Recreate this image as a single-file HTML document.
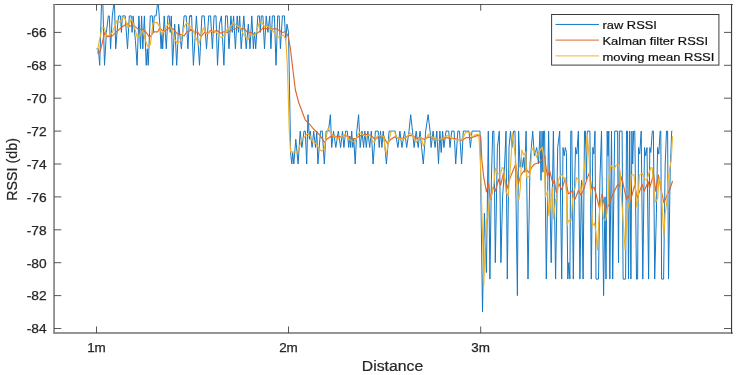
<!DOCTYPE html>
<html><head><meta charset="utf-8"><title>RSSI vs Distance</title>
<style>html,body{margin:0;padding:0;background:#fff}body{width:738px;height:375px;overflow:hidden}</style></head>
<body>
<svg width="738" height="375" viewBox="0 0 738 375" style="display:block;font-family:'Liberation Sans',Arial,sans-serif">
<rect x="0" y="0" width="738" height="375" fill="#fff"/>
<defs><clipPath id="c"><rect x="54" y="4.5" width="678" height="328.5"/></clipPath><filter id="b" x="0" y="0" width="738" height="375" filterUnits="userSpaceOnUse"><feGaussianBlur stdDeviation="0.5 0.12"/></filter><filter id="b2" x="0" y="0" width="738" height="375" filterUnits="userSpaceOnUse"><feGaussianBlur stdDeviation="0.3 0.1"/></filter></defs>
<g clip-path="url(#c)"><g filter="url(#b)">
<polyline fill="none" stroke="#1477c4" stroke-width="1" stroke-linejoin="round" points="96.5,48.8 98.4,48.8 99.7,65.3 102.2,-20.2 104.5,65.3 106.4,32.4 108.3,15.9 109.3,15.9 110.6,48.8 112.3,15.9 114.4,-0.5 115.7,48.8 117.7,24.2 118.7,15.9 120.5,15.9 121.4,32.4 122.4,15.9 125.2,15.9 127.5,48.8 129.3,15.9 131.2,15.9 132.1,32.4 133.1,15.9 135.4,40.6 137.1,65.3 138.9,15.9 140.5,48.8 141.6,15.9 142.8,48.8 144.4,15.9 146.2,65.3 147.3,48.8 148.2,65.3 150.3,15.9 152.3,15.9 153.2,32.4 154.3,15.9 156.1,15.9 158.0,-0.5 159.8,24.2 161.1,48.8 161.9,32.4 162.7,48.8 164.2,15.9 166.3,48.8 167.9,15.9 169.2,15.9 170.2,32.4 171.3,15.9 172.6,65.3 174.7,24.2 176.7,65.3 178.7,24.2 181.4,48.8 184.1,15.9 186.2,15.9 187.9,48.8 189.6,15.9 191.7,15.9 190.0,15.9 191.6,15.9 193.4,65.3 196.4,15.9 199.5,65.3 201.9,15.9 204.2,15.9 206.5,48.8 208.7,15.9 210.6,15.9 212.4,48.8 214.1,15.9 216.0,15.9 217.5,65.3 219.5,24.2 221.4,15.9 223.9,65.3 225.6,15.9 227.3,15.9 229.0,48.8 230.9,15.9 232.3,32.4 233.6,15.9 235.4,48.8 237.2,15.9 238.5,32.4 239.7,15.9 241.2,48.8 243.8,15.9 246.2,48.8 248.3,24.2 250.0,48.8 251.8,15.9 253.4,48.8 254.5,32.4 255.7,48.8 257.8,15.9 259.4,15.9 260.3,32.4 261.3,15.9 262.9,15.9 264.5,48.8 266.2,15.9 267.9,32.4 269.7,15.9 270.9,48.8 272.4,15.9 274.4,15.9 276.0,65.3 277.7,15.9 279.2,15.9 280.4,48.8 282.4,15.9 284.4,15.9 285.7,40.6 287.0,24.2 288.5,32.4 290.7,154.1 291.8,164.0 292.7,152.5 293.8,164.0 295.8,139.3 298.1,164.0 300.2,131.1 301.9,147.5 304.0,131.1 305.3,131.1 306.7,164.0 308.0,114.7 309.4,139.3 310.2,131.1 312.1,147.5 313.7,131.1 315.5,147.5 316.8,131.1 317.9,164.0 320.5,131.1 322.3,131.1 324.3,164.0 326.1,131.1 328.4,131.1 330.4,114.7 331.7,147.5 333.5,131.1 335.8,147.5 338.3,131.1 340.6,147.5 342.5,131.1 343.9,147.5 345.7,131.1 347.3,131.1 348.7,147.5 349.8,136.0 350.7,147.5 351.7,131.1 352.8,147.5 353.8,139.3 355.2,164.0 356.8,131.1 358.6,114.7 360.2,147.5 362.0,131.1 363.6,147.5 364.9,131.1 366.3,147.5 367.9,131.1 369.7,147.5 371.3,131.1 373.1,164.0 375.4,131.1 378.2,131.1 379.2,147.5 380.5,131.1 381.9,147.5 383.2,131.1 385.0,147.5 386.4,164.0 389.1,131.1 395.2,131.1 397.9,147.5 399.9,131.1 401.9,147.5 404.6,131.1 406.7,147.5 409.0,131.1 410.7,114.7 412.5,131.1 414.1,147.5 416.2,131.1 418.2,147.5 420.0,131.1 421.6,147.5 423.3,164.0 425.7,131.1 428.1,114.7 430.1,131.1 431.1,147.5 433.1,131.1 435.1,147.5 436.8,131.1 438.5,164.0 439.9,131.1 441.2,152.5 442.6,131.1 443.9,147.5 446.0,131.1 448.7,131.1 450.0,147.5 451.7,131.1 454.1,131.1 455.7,164.0 457.8,131.1 459.5,131.1 461.6,164.0 463.3,131.1 469.0,131.1 470.4,147.5 472.0,131.1 478.5,131.1 480.0,131.1 482.5,312.0 484.4,213.3 486.4,272.6 488.3,131.1 489.9,279.1 491.4,180.4 492.7,131.1 493.9,131.1 495.3,262.7 497.4,147.5 499.3,131.1 500.9,262.7 502.6,196.9 504.3,172.2 506.0,131.1 507.3,279.1 509.0,147.5 510.5,131.1 512.0,147.5 513.5,131.1 515.0,131.1 517.4,295.6 518.6,131.1 520.1,167.3 521.5,157.4 522.6,167.3 523.8,157.4 524.8,172.2 526.1,131.1 528.0,279.1 530.0,164.0 532.7,131.1 534.4,155.8 536.7,147.5 538.5,164.0 540.0,131.1 541.0,180.4 542.1,131.1 542.9,172.2 543.6,131.1 544.6,131.1 546.3,279.1 548.6,131.1 551.2,262.7 553.4,131.1 555.6,279.1 557.7,147.5 559.7,131.1 561.7,279.1 563.0,147.5 564.2,155.8 565.3,147.5 566.4,152.5 567.8,279.1 568.8,262.7 569.9,279.1 570.8,131.1 571.8,131.1 573.3,279.1 574.4,196.9 575.5,147.5 576.8,154.1 578.4,131.1 579.9,279.1 581.5,180.4 583.1,279.1 584.5,131.1 585.4,131.1 586.4,180.4 587.3,131.1 589.9,131.1 591.3,279.1 592.8,147.5 593.8,154.1 595.0,131.1 596.0,279.1 598.5,279.1 599.9,180.4 601.5,131.1 603.6,295.6 605.0,196.9 606.0,279.1 607.2,131.1 608.0,155.8 608.8,131.1 609.8,279.1 611.5,131.1 612.7,279.1 614.7,131.1 617.6,131.1 618.5,262.7 619.4,131.1 622.1,131.1 623.1,279.1 625.6,279.1 626.5,131.1 627.5,131.1 628.5,279.1 629.7,131.1 630.9,279.1 631.9,131.1 632.7,164.0 633.6,131.1 634.8,131.1 636.5,279.1 637.6,279.1 638.5,147.5 639.7,154.1 641.2,131.1 642.8,279.1 644.5,147.5 645.7,155.8 647.0,147.5 648.6,279.1 649.8,147.5 650.8,152.5 652.3,131.1 653.4,131.1 654.7,279.1 656.4,213.3 657.6,147.5 658.8,154.1 660.1,131.1 660.8,131.1 661.6,279.1 663.6,279.1 665.2,164.0 666.5,131.1 667.6,131.1 668.5,279.1 670.2,172.2 671.7,131.1 672.3,131.1"/>
</g><g filter="url(#b2)">
<polyline fill="none" stroke="#e0652a" stroke-width="1.15" stroke-linejoin="round" points="97.6,53.0 99.7,52.4 100.8,48.8 104.9,31.8 106.9,36.6 112.3,35.9 116.4,31.8 121.8,27.1 127.2,23.7 129.9,26.4 132.7,24.4 138.1,29.1 143.5,29.8 146.2,32.5 149.6,37.3 153.7,31.8 157.7,31.8 159.8,27.8 163.8,31.8 169.2,27.8 173.3,29.1 177.4,33.9 181.4,34.6 184.1,35.9 186.9,31.8 190.9,30.5 190.0,29.1 194.1,31.8 198.1,32.5 200.8,36.6 204.9,31.8 207.6,33.9 210.3,30.5 213.7,32.5 217.1,30.5 220.5,33.2 223.9,31.8 227.3,32.5 232.0,29.8 236.1,28.5 238.8,27.1 242.2,29.1 244.2,28.5 246.9,31.8 251.0,32.5 255.0,34.6 259.1,31.8 263.2,27.8 265.9,29.1 268.6,27.8 272.7,29.1 275.4,28.5 279.4,30.5 282.1,32.5 284.9,31.8 286.9,33.9 288.1,36.0 290.3,47.7 293.1,71.2 295.4,90.0 298.8,102.8 302.0,111.3 305.2,119.9 308.4,123.0 309.4,124.0 312.8,128.1 316.2,131.5 320.2,135.6 324.3,142.3 327.0,138.9 331.1,136.2 336.5,136.2 340.6,136.9 344.6,134.9 348.7,136.9 352.8,138.3 355.5,138.9 358.8,136.2 362.9,134.9 367.7,134.2 371.7,136.2 374.4,138.9 378.5,137.6 383.9,136.2 385.0,139.6 387.7,143.7 390.4,139.6 394.5,136.9 398.6,138.3 404.0,138.3 409.4,135.6 412.1,135.6 416.2,138.3 420.2,137.6 424.3,139.6 428.4,136.9 432.4,138.3 437.8,139.6 441.9,139.6 446.0,137.6 450.0,138.3 454.1,138.3 458.2,139.6 462.2,140.3 466.3,137.6 471.7,137.6 477.1,135.6 480.5,135.6 481.0,140.0 481.8,160.0 483.8,177.6 486.5,191.8 488.5,183.7 490.6,199.3 493.3,187.1 495.3,191.2 498.7,179.0 500.7,185.0 503.5,172.9 506.8,189.1 510.2,177.6 515.7,164.0 518.4,183.7 520.4,176.3 522.4,172.9 525.8,168.8 529.2,172.9 531.9,166.8 534.6,164.0 538.7,162.7 542.0,160.0 544.8,155.9 545.5,164.0 547.5,176.3 549.5,170.2 552.9,183.7 554.3,180.3 556.3,192.5 559.0,183.7 561.7,189.8 565.1,179.0 568.5,193.9 571.9,191.2 575.0,199.3 578.4,190.5 581.1,195.2 583.8,189.1 586.5,180.3 589.2,172.9 591.9,189.1 594.0,187.1 596.0,193.9 599.4,208.0 602.1,193.9 605.5,211.0 608.9,204.7 611.6,197.3 615.0,189.8 617.7,184.4 619.7,186.4 621.7,176.9 623.8,187.1 626.5,199.3 628.5,195.2 630.6,200.7 634.6,185.1 637.3,197.9 642.1,184.4 644.1,191.2 648.2,181.7 649.5,188.5 653.6,174.2 655.6,191.2 658.3,174.9 661.0,189.1 663.8,202.7 667.1,195.2 669.9,189.1 672.6,181.0"/>
<polyline fill="none" stroke="#f0b42c" stroke-width="1.15" stroke-linejoin="round" points="97.4,53.7 98.5,45.0 102.2,27.1 104.2,27.8 106.9,35.9 109.6,35.2 112.3,32.5 117.1,20.3 119.8,22.4 123.2,16.9 125.2,19.0 127.9,27.8 131.3,19.0 134.0,25.7 137.4,37.9 139.4,35.9 142.8,30.5 145.5,40.7 148.2,47.4 150.3,44.7 153.0,23.0 157.0,22.4 159.8,27.1 161.8,34.6 165.2,29.1 168.6,23.0 171.3,29.1 174.7,39.3 177.4,43.4 180.8,40.7 184.1,27.1 186.9,22.4 189.6,25.7 190.0,26.4 192.7,29.1 195.4,36.6 198.8,44.7 201.5,33.9 203.6,27.8 206.3,33.9 210.3,31.8 215.1,30.5 219.1,35.9 221.8,37.9 224.6,33.9 227.3,29.1 230.7,26.4 233.4,22.4 236.7,25.7 240.1,27.1 243.5,34.6 248.3,39.3 250.3,34.6 253.7,35.9 256.4,31.8 259.1,23.0 261.8,22.4 264.5,26.4 267.9,26.4 271.3,29.1 274.7,33.2 278.1,37.3 280.1,35.9 283.5,35.2 285.5,38.6 286.3,47.0 287.2,62.7 288.2,92.5 289.2,130.0 290.6,151.9 292.5,151.8 296.5,152.5 298.6,149.1 301.9,139.6 304.6,136.9 307.4,133.5 310.1,135.6 312.8,142.3 315.5,143.0 318.9,148.4 321.6,151.1 324.3,149.1 325.7,139.6 328.1,128.1 330.4,132.8 333.8,136.2 337.8,138.9 341.9,136.2 345.3,134.2 348.7,138.9 352.8,141.6 354.8,142.3 357.5,135.6 359.5,132.2 362.9,134.9 366.3,136.2 369.7,134.9 372.4,141.0 374.4,142.3 377.1,136.2 379.9,134.9 383.9,136.9 385.0,149.1 386.4,153.8 388.4,142.3 391.1,131.5 394.5,131.5 396.5,136.9 399.9,138.9 404.0,138.9 407.4,136.2 410.1,132.8 412.8,136.2 416.2,142.3 418.2,139.6 420.9,136.9 423.6,146.4 425.7,139.6 428.4,134.2 431.1,136.2 435.1,138.9 439.2,139.6 443.3,138.3 446.7,135.6 450.0,136.9 454.1,139.6 458.8,139.6 462.9,138.9 465.6,132.2 469.7,132.2 471.7,136.9 475.1,134.9 478.5,134.2 479.0,137.6 480.4,160.0 481.5,200.0 483.0,250.0 483.8,285.6 485.0,250.0 486.5,219.0 487.9,217.6 489.2,200.0 491.3,196.6 494.0,183.0 495.3,168.1 497.4,173.6 500.7,173.6 502.1,167.5 503.5,168.1 504.8,180.3 506.2,192.5 508.2,195.9 509.6,177.6 510.9,160.0 512.5,133.0 514.5,150.0 515.7,160.0 516.3,180.3 517.7,195.9 519.0,199.3 520.4,187.1 521.7,150.0 523.8,155.2 525.8,151.8 526.5,177.0 529.2,176.3 530.5,170.8 531.9,147.8 534.6,151.2 536.7,157.3 538.7,152.5 542.1,147.1 543.4,155.2 544.8,177.6 545.5,196.6 547.5,191.2 548.8,215.6 550.5,205.0 552.2,187.1 553.6,219.0 555.6,199.3 557.0,200.7 558.3,180.3 559.7,176.9 561.7,174.2 563.8,179.0 565.1,177.6 566.5,193.9 567.1,225.7 568.5,220.3 571.2,220.3 572.6,200.0 574.0,190.0 575.0,188.5 576.4,177.6 579.0,180.3 581.1,192.5 583.1,180.3 585.2,160.0 587.2,134.0 588.6,150.0 589.2,160.0 589.9,180.3 591.3,200.7 592.6,225.7 594.6,223.0 596.0,233.9 597.4,250.0 598.7,223.7 600.0,205.0 601.5,198.0 603.5,219.0 605.5,220.3 606.8,213.6 608.2,200.0 608.9,177.6 610.9,165.4 614.3,168.8 616.3,164.7 619.0,164.7 620.4,173.6 621.1,193.9 622.4,210.0 623.1,220.3 625.1,250.0 627.2,213.6 628.5,205.0 629.9,199.3 631.2,174.9 633.9,174.9 635.3,187.1 636.7,206.8 638.0,200.7 639.4,174.9 642.1,173.6 644.8,179.0 646.8,180.3 648.8,173.6 650.9,167.5 652.2,168.1 653.6,187.1 655.6,202.0 657.7,197.9 659.0,177.6 661.0,184.4 662.1,205.0 663.8,236.6 665.1,213.6 666.5,205.0 668.5,176.3 669.9,168.1 671.2,160.0 672.5,136.3"/>
</g></g>
<path d="M53.25 4.5H732.8" stroke="#585858" stroke-width="1" fill="none"/>
<path d="M53.25 333H732.8" stroke="#727272" stroke-width="1.5" fill="none"/>
<path d="M54.05 4V333.5" stroke="#868686" stroke-width="1.7" fill="none"/>
<path d="M731.55 4V333.7" stroke="#3e3e3e" stroke-width="1.15" fill="none"/>
<path d="M54.05 32.40h7.2M731 32.40h-7M54.05 65.30h7.2M731 65.30h-7M54.05 98.20h7.2M731 98.20h-7M54.05 131.10h7.2M731 131.10h-7M54.05 164.00h7.2M731 164.00h-7M54.05 196.90h7.2M731 196.90h-7M54.05 229.80h7.2M731 229.80h-7M54.05 262.70h7.2M731 262.70h-7M54.05 295.60h7.2M731 295.60h-7M54.05 328.50h7.2M731 328.50h-7M96.5 333.0v-6.5M96.5 4.2v6.5M288.5 333.0v-6.5M288.5 4.2v6.5M480.7 333.0v-6.5M480.7 4.2v6.5" stroke="#3a3a3a" stroke-width="0.85" fill="none"/>
<text x="46.65" y="37.2" font-size="12.4" text-anchor="end" fill="#262626" stroke="#262626" stroke-width="0.25" textLength="19.9" lengthAdjust="spacingAndGlyphs">-66</text>
<text x="46.65" y="70.1" font-size="12.4" text-anchor="end" fill="#262626" stroke="#262626" stroke-width="0.25" textLength="19.9" lengthAdjust="spacingAndGlyphs">-68</text>
<text x="46.65" y="103.0" font-size="12.4" text-anchor="end" fill="#262626" stroke="#262626" stroke-width="0.25" textLength="19.9" lengthAdjust="spacingAndGlyphs">-70</text>
<text x="46.65" y="135.9" font-size="12.4" text-anchor="end" fill="#262626" stroke="#262626" stroke-width="0.25" textLength="19.9" lengthAdjust="spacingAndGlyphs">-72</text>
<text x="46.65" y="168.8" font-size="12.4" text-anchor="end" fill="#262626" stroke="#262626" stroke-width="0.25" textLength="19.9" lengthAdjust="spacingAndGlyphs">-74</text>
<text x="46.65" y="201.7" font-size="12.4" text-anchor="end" fill="#262626" stroke="#262626" stroke-width="0.25" textLength="19.9" lengthAdjust="spacingAndGlyphs">-76</text>
<text x="46.65" y="234.6" font-size="12.4" text-anchor="end" fill="#262626" stroke="#262626" stroke-width="0.25" textLength="19.9" lengthAdjust="spacingAndGlyphs">-78</text>
<text x="46.65" y="267.5" font-size="12.4" text-anchor="end" fill="#262626" stroke="#262626" stroke-width="0.25" textLength="19.9" lengthAdjust="spacingAndGlyphs">-80</text>
<text x="46.65" y="300.4" font-size="12.4" text-anchor="end" fill="#262626" stroke="#262626" stroke-width="0.25" textLength="19.9" lengthAdjust="spacingAndGlyphs">-82</text>
<text x="46.65" y="333.3" font-size="12.4" text-anchor="end" fill="#262626" stroke="#262626" stroke-width="0.25" textLength="19.9" lengthAdjust="spacingAndGlyphs">-84</text>
<text x="96.5" y="351.5" font-size="12.3" text-anchor="middle" fill="#262626" stroke="#262626" stroke-width="0.25" textLength="18.7" lengthAdjust="spacingAndGlyphs">1m</text>
<text x="288.5" y="351.5" font-size="12.3" text-anchor="middle" fill="#262626" stroke="#262626" stroke-width="0.25" textLength="18.7" lengthAdjust="spacingAndGlyphs">2m</text>
<text x="480.7" y="351.5" font-size="12.3" text-anchor="middle" fill="#262626" stroke="#262626" stroke-width="0.25" textLength="18.7" lengthAdjust="spacingAndGlyphs">3m</text>
<text x="392.5" y="370.5" font-size="14" text-anchor="middle" fill="#262626" stroke="#262626" stroke-width="0.2" textLength="61.3" lengthAdjust="spacingAndGlyphs">Distance</text>
<text transform="translate(17.3 169.4) rotate(-90) scale(1 1.07)" font-size="14.3" text-anchor="middle" fill="#262626" stroke="#262626" stroke-width="0.2">RSSI (db)</text>
<rect x="551.6" y="14.5" width="167.3" height="50.6" fill="#fff" stroke="#3c3c3c" stroke-width="1"/>
<path d="M555.5 24.45H599" stroke="#1477c4" stroke-width="1" fill="none"/>
<path d="M555.5 40.1H599" stroke="#e0652a" stroke-width="1" fill="none"/>
<path d="M555.5 55.9H599" stroke="#f0b42c" stroke-width="1" fill="none"/>
<text x="602.5" y="28.7" font-size="11.3" fill="#111" stroke="#111" stroke-width="0.2" textLength="54.4" lengthAdjust="spacingAndGlyphs">raw RSSI</text>
<text x="602.5" y="44.7" font-size="11.3" fill="#111" stroke="#111" stroke-width="0.2" textLength="105.5" lengthAdjust="spacingAndGlyphs">Kalman filter RSSI</text>
<text x="602.5" y="60.5" font-size="11.3" fill="#111" stroke="#111" stroke-width="0.2" textLength="111.9" lengthAdjust="spacingAndGlyphs">moving mean RSSI</text>
</svg>
</body></html>
